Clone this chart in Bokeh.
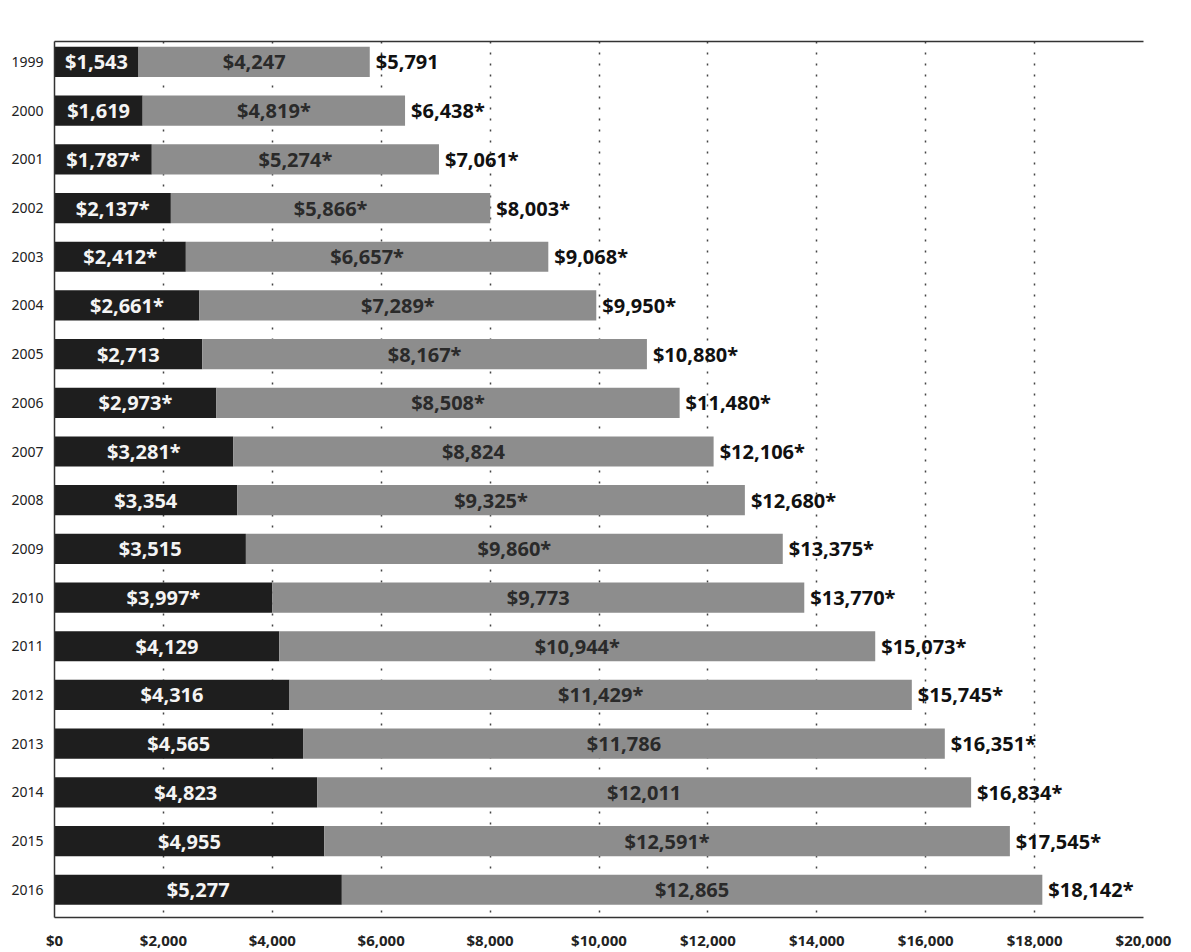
from bokeh.plotting import figure
from bokeh.models import ColumnDataSource, Range1d, LinearAxis, FixedTicker, NumeralTickFormatter
from bokeh.core.properties import value
from bokeh.embed import file_html
from bokeh.resources import INLINE

years = [str(y) for y in range(1999, 2017)]
worker = [1543, 1619, 1787, 2137, 2412, 2661, 2713, 2973, 3281, 3354, 3515, 3997, 4129, 4316, 4565, 4823, 4955, 5277]
employer = [4247, 4819, 5274, 5866, 6657, 7289, 8167, 8508, 8824, 9325, 9860, 9773, 10944, 11429, 11786, 12011, 12591, 12865]
total = [5791, 6438, 7061, 8003, 9068, 9950, 10880, 11480, 12106, 12680, 13375, 13770, 15073, 15745, 16351, 16834, 17545, 18142]
worker_star = [0, 0, 1, 1, 1, 1, 0, 1, 1, 0, 0, 1, 0, 0, 0, 0, 0, 0]
employer_star = [0, 1, 1, 1, 1, 1, 1, 1, 0, 1, 1, 0, 1, 1, 0, 0, 1, 0]
total_star = [0, 1, 1, 1, 1, 1, 1, 1, 1, 1, 1, 1, 1, 1, 1, 1, 1, 1]
x_ticks = [0, 2000, 4000, 6000, 8000, 10000, 12000, 14000, 16000, 18000, 20000]


def fmt(v, s):
    return "${:,}".format(v) + ("*" if s else "")


idx = list(range(len(years)))
src = ColumnDataSource(dict(
    y=idx,
    w=worker,
    e_right=[a + b for a, b in zip(worker, employer)],
    tot=total,
    w_mid=[a / 2 for a in worker],
    e_mid=[a + b / 2 for a, b in zip(worker, employer)],
    w_lab=[fmt(v, s) for v, s in zip(worker, worker_star)],
    e_lab=[fmt(v, s) for v, s in zip(employer, employer_star)],
    t_lab=[fmt(v, s) for v, s in zip(total, total_star)],
))

FONT = "Noto Sans"

p = figure(width=1191, height=952, output_backend="svg", toolbar_location=None,
           x_range=Range1d(0, 20000), y_range=Range1d(17.57, -0.42),
           min_border_left=54, min_border_right=48, min_border_top=41, min_border_bottom=32)
p.outline_line_color = None
p.background_fill_color = "white"
p.border_fill_color = "white"

p.hbar(y="y", left=0, right="w", height=0.62, source=src, fill_color="#1e1e1e", line_color=None)
p.hbar(y="y", left="w", right="e_right", height=0.62, source=src, fill_color="#8d8d8d", line_color=None)

p.text(x="w_mid", y="y", text="w_lab", source=src, text_align="center", text_baseline="middle",
       text_color="#f4f4f4", text_font=value(FONT), text_font_style="bold", text_font_size="20px")
p.text(x="e_mid", y="y", text="e_lab", source=src, text_align="center", text_baseline="middle",
       text_color="#2a2a2a", text_font=value(FONT), text_font_style="bold", text_font_size="20px")
p.text(x="tot", y="y", text="t_lab", source=src, text_align="left", text_baseline="middle", x_offset=6,
       text_color="#111111", text_font=value(FONT), text_font_style="bold", text_font_size="20px")

# grid
p.ygrid.grid_line_color = None
p.xgrid.ticker = FixedTicker(ticks=x_ticks)
p.xgrid.grid_line_color = "#444444"
p.xgrid.grid_line_dash = "2 9"
p.xgrid.grid_line_width = 1.5

# x axis
xa = p.xaxis[0]
xa.ticker = FixedTicker(ticks=x_ticks)
xa.formatter = NumeralTickFormatter(format="$0,0")
xa.major_tick_line_color = None
xa.minor_tick_line_color = None
xa.axis_line_color = "#333333"
xa.axis_line_width = 1.5
xa.major_label_text_font = FONT
xa.major_label_text_font_style = "bold"
xa.major_label_text_font_size = "15px"
xa.major_label_text_color = "#222222"
xa.major_label_standoff = 6

# y axis
ya = p.yaxis[0]
ya.ticker = FixedTicker(ticks=idx)
ya.major_label_overrides = {i: y for i, y in zip(idx, years)}
ya.major_tick_line_color = None
ya.minor_tick_line_color = None
ya.axis_line_color = "#333333"
ya.axis_line_width = 1.5
ya.major_label_text_font = FONT
ya.major_label_text_font_size = "14px"
ya.major_label_text_color = "#222222"
ya.major_label_standoff = 5

# top frame line
top = LinearAxis(major_tick_line_color=None, minor_tick_line_color=None,
                 major_label_text_font_size="0px", axis_line_color="#333333", axis_line_width=1.5)
top.ticker = FixedTicker(ticks=[])
p.add_layout(top, "above")

open("out.html", "w").write(file_html(p, INLINE))
